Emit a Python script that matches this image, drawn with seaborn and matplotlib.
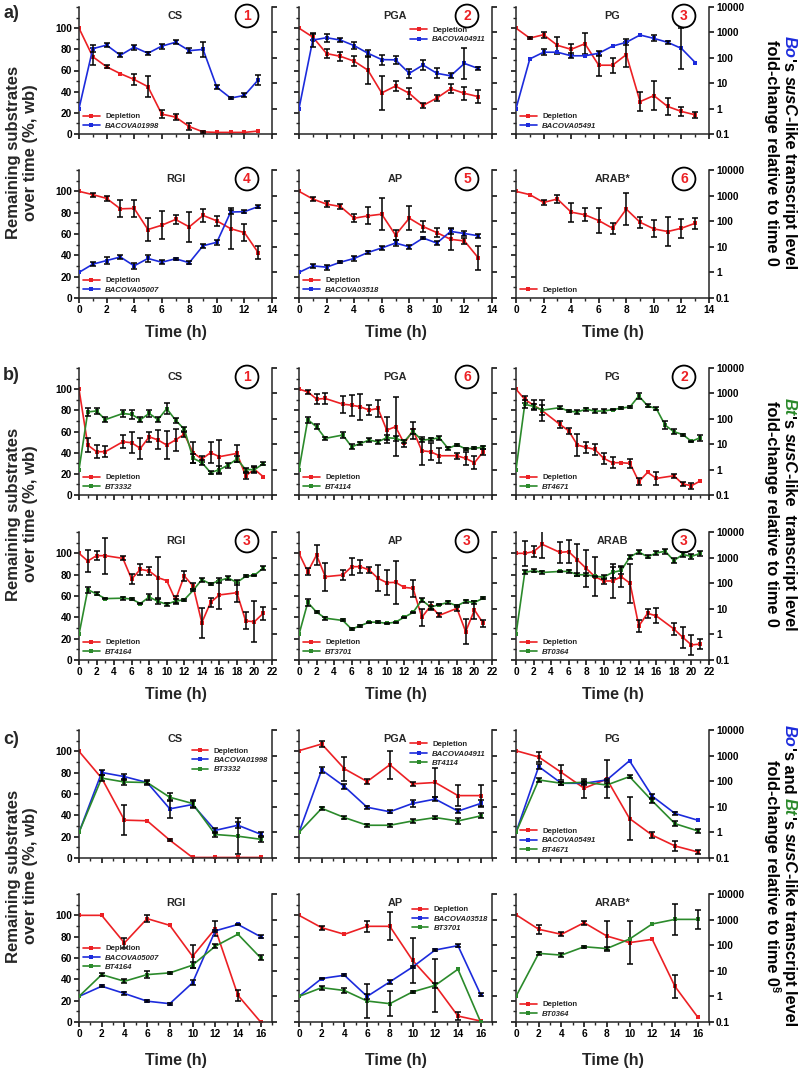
import numpy as np
import matplotlib
matplotlib.use('Agg')
import matplotlib.pyplot as plt
import seaborn as sns
from matplotlib.ticker import FixedLocator, MultipleLocator, NullLocator, FixedFormatter, NullFormatter
from matplotlib.transforms import IdentityTransform

nan = np.nan

# --- time axes ---
T_A = [0, 1, 2, 3, 4, 5, 6, 7, 8, 9, 10, 11, 12, 13]
T_B = [0, 1, 2, 3, 5, 6, 7, 8, 9, 10, 11, 12, 13, 14, 15, 16, 17, 18, 19, 20, 21]
T_C = [0, 2, 4, 6, 8, 10, 12, 14, 16]

# --- a) B. ovatus (depletion in %, transcripts as fold-change, errors in log10 units) ---
a_cs_dep = [100, 73, 63.5, 57, 51.5, 44.7, 18.8, 16, 7, 2, 1.5, 1.5, 1.5, 2.8]
a_cs_dep_err = [0, 8, 1.5, 0, 5, 10, 4, 3, 3, 1, 0, 0, 0, 0]
a_cs_bo = [1, 229, 316, 126, 263, 151, 288, 407, 191, 214, 6.9, 2.6, 3.3, 13.5]
a_cs_bo_err = [0, 0.15, 0.08, 0.08, 0.1, 0.06, 0.1, 0.08, 0.1, 0.3, 0.08, 0.05, 0.08, 0.2]

a_pga_dep = [100, 91.6, 76, 73.4, 68.8, 60.3, 38.8, 45.3, 38.4, 27, 34, 42.8, 38.4, 35.3]
a_pga_dep_err = [0, 2.5, 4, 4, 5, 13, 16, 5, 5, 2, 3, 4, 6, 6]
a_pga_bo = [1, 500, 617, 500, 302, 151, 85, 83, 24.5, 52, 24.5, 19.5, 60, 38]
a_pga_bo_err = [0, 0.26, 0.15, 0.09, 0.15, 0.13, 0.2, 0.17, 0.18, 0.18, 0.2, 0.1, 0.6, 0.06]

a_pg_dep = [100, 90.6, 93.8, 83.8, 80, 85.3, 65, 65, 75, 30.6, 36.3, 26, 21.3, 18.1]
a_pg_dep_err = [0, 1, 3, 8, 5, 10, 10, 7, 12, 9, 14, 8, 4, 3]
a_pg_bo = [1, 90, 166, 166, 120, 120, 151, 288, 407, 790, 580, 407, 234, 65]
a_pg_bo_err = [0, 0, 0.12, 0, 0.1, 0, 0.1, 0, 0.12, 0, 0.12, 0.07, 0.8, 0]

a_rgi_dep = [100, 96.9, 93.4, 83.6, 84, 64.2, 68.2, 73.6, 66.7, 77.4, 72.3, 65, 61.3, 42.5]
a_rgi_dep_err = [0, 2, 2, 8, 8, 11, 13, 4, 14, 6, 5, 19, 8, 6]
a_rgi_bo = [1, 2.1, 2.9, 4.0, 1.8, 3.5, 2.5, 3.4, 2.4, 11, 15, 228, 236, 372]
a_rgi_bo_err = [0, 0.07, 0.13, 0.07, 0.13, 0.13, 0.07, 0.05, 0.07, 0.08, 0.1, 0.09, 0.05, 0.06]

a_ap_dep = [100, 92.8, 88, 85.8, 74.8, 77, 78.6, 59, 74.8, 67, 61.3, 55, 53.5, 37.7]
a_ap_dep_err = [0, 2, 3, 2, 4, 8, 15, 5, 11, 5, 4, 10, 3, 11]
a_ap_bo = [1, 1.8, 1.6, 2.5, 3.5, 6, 9, 14, 10, 22, 14, 40, 33, 27]
a_ap_bo_err = [0, 0.07, 0.1, 0.03, 0.08, 0.04, 0.07, 0.1, 0.07, 0.05, 0.08, 0.12, 0.08, 0.08]

a_arab_dep = [100, 96.9, 89.6, 92.8, 80.5, 78, 72.6, 65.4, 83.3, 71, 64.8, 62.3, 65.4, 70.1]
a_arab_dep_err = [0, 0, 2, 4, 9, 6, 12, 5, 15, 5, 8, 14, 9, 5]

# --- b) B. thetaiotaomicron ---
b_cs_dep = [100, 47.2, 40.9, 40.9, 50.3, 49.4, 44, 55, 52, 47.2, 52, 57.5, 40, 34, 40, 36.2, nan, 39.3, 18.2, 24.2, 17.3]
b_cs_dep_err = [0, 7, 6, 5, 6, 10, 10, 5, 9, 13, 10, 3, 10, 3, 10, 16, nan, 8, 3, 3, 0]
b_cs_bt = [1, 186, 204, 93, 162, 148, 93, 162, 93, 251, 89, 39, 2.8, 1.9, 0.76, 1.0, 1.5, 2.6, 1.0, 1.0, 1.7]
b_cs_bt_err = [0, 0.16, 0.13, 0.1, 0.13, 0.16, 0.1, 0.13, 0.1, 0.22, 0.1, 0.1, 0.18, 0.1, 0.06, 0.13, 0.1, 0.13, 0.08, 0.1, 0.05]

b_pga_dep = [100, 97.5, 90.6, 91.2, 85.8, 84.9, 83.3, 80.2, 81.8, 61.3, 64.5, 48.7, 61.3, 41.8, 40.9, 37.1, nan, 37.1, 34.6, 30.5, 40.9]
b_pga_dep_err = [0, 2, 5, 5, 8, 10, 12, 5, 8, 12, 28, 3, 8, 13, 8, 7, nan, 3, 6, 6, 3]
b_pga_bt = [1, 93, 48, 17, 23, 7.9, 10.7, 14.5, 12.4, 18, 17, 13, 31, 14.5, 15.5, 18, 6.8, 9.5, 6.5, 7, 7.5]
b_pga_bt_err = [0, 0.12, 0.1, 0.06, 0.1, 0.1, 0.07, 0.07, 0.08, 0.1, 0.1, 0.05, 0.1, 0.06, 0.06, 0.08, 0.05, 0.03, 0.05, 0.03, 0.07]

b_pg_dep = [100, 90.3, 84.9, 79.6, 66.7, 60.7, 47.2, 45, 43, 34.6, 30.5, 30.5, 29.9, 12.6, 21.4, 15.7, nan, 18.2, 10.4, 8.8, 13.2]
b_pg_dep_err = [0, 3, 5, 10, 3, 3, 10, 5, 5, 5, 5, 0, 4, 3, 0, 6, nan, 2, 2, 3, 0]
b_pg_bt = [1, 372, 309, 219, 275, 200, 186, 240, 200, 204, 229, 263, 295, 794, 324, 251, 56, 31, 24, 13, 18]
b_pg_bt_err = [0, 0.15, 0.1, 0.2, 0.07, 0.05, 0.07, 0.06, 0.08, 0.08, 0.03, 0.05, 0.05, 0.12, 0.06, 0.05, 0.15, 0.1, 0.04, 0.03, 0.12]

b_rgi_dep = [100, 92.8, 97.8, 97.8, 95.3, 75.9, 85, 83.4, 77.2, 74.4, 56.3, 78.8, 69.4, 35, 54, 61, nan, 63.1, 36.6, 35.9, 43.8]
b_rgi_dep_err = [0, 10, 4, 17, 2, 5, 5, 4, 19, 0, 4, 5, 3, 14, 4, 13, nan, 9, 8, 19, 6]
b_rgi_bt = [1, 56, 38, 25, 26, 24, 16, 29, 19.5, 15, 20, 22.5, 52, 138, 93, 126, 159, 107, 186, 204, 389]
b_rgi_bt_err = [0, 0.12, 0.06, 0.03, 0.06, 0.04, 0.03, 0.1, 0.1, 0.06, 0.08, 0.03, 0.04, 0.08, 0.02, 0.1, 0.08, 0.1, 0.04, 0.02, 0.08]

b_ap_dep = [100, 82.8, 98.4, 78.1, 79.7, 87.5, 87.5, 84.4, 76.6, 72.5, 72.8, 68.1, 67.2, 40, 50.6, 41.9, nan, 48.4, 26.6, 46.9, 34.4]
b_ap_dep_err = [0, 3, 9, 13, 5, 8, 6, 3, 12, 12, 20, 0, 8, 8, 4, 2, nan, 2, 12, 8, 3]
b_ap_bt = [1, 17.7, 7.4, 4.3, 3.5, 1.6, 2.2, 3.0, 3.0, 2.7, 3.0, 4.7, 7.2, 22, 11.7, 14.5, 17.7, 13, 19.5, 17.7, 26]
b_ap_bt_err = [0, 0.12, 0.04, 0.06, 0.04, 0.04, 0.04, 0.02, 0.04, 0.02, 0.02, 0.02, 0.02, 0.08, 0.06, 0.03, 0.05, 0.03, 0.05, 0.06, 0.03]

b_arab_dep = [100, 100, 101.6, 108.4, 100.9, 101.6, 93.8, 85.9, 78.1, 74.1, 74.1, 78.1, 71.9, 31.9, 43.8, 41.3, nan, 29.1, 21.3, 14.1, 15]
b_arab_dep_err = [0, 12, 5, 13, 10, 11, 15, 17, 18, 3, 16, 10, 18, 6, 4, 7, nan, 6, 10, 9, 5]
b_arab_bt = [1, 263, 309, 263, 288, 288, 214, 214, 186, 174, 263, 316, 1070, 1660, 1070, 1510, 1780, 760, 1320, 1120, 1450]
b_arab_bt_err = [0, 0.08, 0.05, 0.05, 0.02, 0.06, 0.05, 0.06, 0.03, 0.08, 0.2, 0.15, 0.07, 0.07, 0.06, 0.07, 0.1, 0.1, 0.1, 0.1, 0.08]

# --- c) co-culture ---
c_cs_dep = [100, 74.8, 35.5, 34.9, 16.7, 0.5, 0.5, 0.5, 0.5]
c_cs_dep_err = [0, 0, 14, 0, 1, 0, 0, 0, 0]
c_cs_bo = [1, 219, 151, 89, 8.3, 12.3, 1.2, 1.9, 0.85]
c_cs_bo_err = [0, 0.1, 0.12, 0.08, 0.35, 0.15, 0.1, 0.12, 0.08]
c_cs_bt = [1, 132, 93, 89, 23.5, 13.5, 0.83, 0.71, 0.54]
c_cs_bt_err = [0, 0.12, 0.1, 0.06, 0.15, 0.15, 0.08, 0.7, 0.1]

c_pga_dep = [100.6, 106.9, 83.6, 71.7, 87.4, 69.5, 70.8, 58.5, 58.5]
c_pga_dep_err = [0, 3, 11, 2, 13, 2, 14, 10, 10]
c_pga_bo = [1, 275, 62, 9.6, 6.4, 13.5, 20, 6.8, 13.5]
c_pga_bo_err = [0, 0.1, 0.08, 0.05, 0.05, 0.12, 0.07, 0.08, 0.12]
c_pga_bt = [1, 8.7, 3.8, 1.9, 1.9, 2.8, 3.8, 2.8, 4.4]
c_pga_bt_err = [0, 0.07, 0.06, 0.06, 0.06, 0.07, 0.06, 0.1, 0.1]

c_pg_dep = [100.6, 94.7, 80.2, 65.4, 73.9, 37, 21.4, 11.3, 5.7]
c_pg_dep_err = [0, 5, 7, 9, 18, 20, 3, 5, 2]
c_pg_bo = [1, 372, 83, 83, 112, 630, 26, 5.5, 3.0]
c_pg_bo_err = [0, 0.1, 0.05, 0.05, 0.05, 0, 0.1, 0.05, 0]
c_pg_bt = [1, 112, 83, 91, 71, 151, 17, 2.2, 1.15]
c_pg_bt_err = [0, 0.08, 0.06, 0.05, 0.08, 0.07, 0.1, 0.1, 0.08]

c_rgi_dep = [100, 100, 74.1, 96.9, 90.6, 61.6, 87.5, 25, 0]
c_rgi_dep_err = [0, 0, 5, 3, 0, 11, 7, 5, 0]
c_rgi_bo = [1, 2.5, 1.3, 0.65, 0.52, 3.4, 363, 646, 214]
c_rgi_bo_err = [0, 0.03, 0.06, 0.03, 0.04, 0.1, 0.05, 0.02, 0.05]
c_rgi_bt = [1, 7.1, 3.9, 7.1, 8.3, 16.6, 91, 269, 32]
c_rgi_bt_err = [0, 0.05, 0.07, 0.13, 0.04, 0.12, 0.08, 0, 0.1]

c_ap_dep = [100, 88.4, 82.2, 89.7, 89.7, 57.8, 34.4, 5.6, 0.9]
c_ap_dep_err = [0, 2, 0, 5, 13, 21, 25, 4, 0]
c_ap_bo = [1, 5.0, 6.7, 1.0, 3.7, 14, 65, 96, 1.18]
c_ap_bo_err = [0, 0.02, 0.04, 0.1, 0.07, 0.03, 0.05, 0.06, 0.05]
c_ap_bt = [1, 2.2, 1.7, 0.66, 0.52, 1.5, 2.7, 11.5, 0.1]
c_ap_bt_err = [0, 0.08, 0.08, 0.65, 0.5, 0.04, 0.1, 0, 0]

c_arab_dep = [100.6, 86.9, 82.2, 93.1, 80.6, 74.4, 77.5, 33.4, 4.7]
c_arab_dep_err = [0, 4, 2, 2, 14, 20, 0, 11, 0]
c_arab_bt = [1, 48, 41, 87, 74, 174, 676, 1020, 1020]
c_arab_bt_err = [0, 0.07, 0.07, 0.04, 0.05, 0, 0, 0.6, 0.38]

RED = '#ec2024'
BLUE = '#1c2bdc'
GREEN = '#2b8a2b'

sns.set_theme(style='ticks')
plt.rcParams['font.family'] = ['Liberation Sans', 'DejaVu Sans']
plt.rcParams['font.weight'] = 'bold'
plt.rcParams['axes.linewidth'] = 1.1

W, H = 800, 1071
fig = plt.figure(figsize=(8, 10.71), dpi=100)
fig.patch.set_facecolor('white')

COL_X = [79, 299, 516]
AX_W = 193
GROUP_ROWS = {'a': [(7, 134), (170, 298)],
              'b': [(368, 495), (532, 660)],
              'c': [(730, 858), (894, 1022)]}
XMAX = {'a': 14, 'b': 22, 'c': 17}
XTICKS = {'a': range(0, 15, 2), 'b': range(0, 23, 2), 'c': range(0, 17, 2)}
TIMES = {'a': T_A, 'b': T_B, 'c': T_C}

# group, row, col, title, circle, depletion, error, transcript series, legend loc, anchor
PANELS = [
    ('a', 0, 0, 'CS', 1, a_cs_dep, a_cs_dep_err, [('BACOVA01998', a_cs_bo, a_cs_bo_err, BLUE)], 'lower left', (0, 0)),
    ('a', 0, 1, 'PGA', 2, a_pga_dep, a_pga_dep_err, [('BACOVA04911', a_pga_bo, a_pga_bo_err, BLUE)], 'upper right', (0.99, 0.88)),
    ('a', 0, 2, 'PG', 3, a_pg_dep, a_pg_dep_err, [('BACOVA05491', a_pg_bo, a_pg_bo_err, BLUE)], 'lower left', (0, 0)),
    ('a', 1, 0, 'RGI', 4, a_rgi_dep, a_rgi_dep_err, [('BACOVA05007', a_rgi_bo, a_rgi_bo_err, BLUE)], 'lower left', (0, 0)),
    ('a', 1, 1, 'AP', 5, a_ap_dep, a_ap_dep_err, [('BACOVA03518', a_ap_bo, a_ap_bo_err, BLUE)], 'lower left', (0, 0)),
    ('a', 1, 2, 'ARAB*', 6, a_arab_dep, a_arab_dep_err, [], 'lower left', (0, 0)),
    ('b', 0, 0, 'CS', 1, b_cs_dep, b_cs_dep_err, [('BT3332', b_cs_bt, b_cs_bt_err, GREEN)], 'lower left', (0, 0)),
    ('b', 0, 1, 'PGA', 6, b_pga_dep, b_pga_dep_err, [('BT4114', b_pga_bt, b_pga_bt_err, GREEN)], 'lower left', (0, 0)),
    ('b', 0, 2, 'PG', 2, b_pg_dep, b_pg_dep_err, [('BT4671', b_pg_bt, b_pg_bt_err, GREEN)], 'lower left', (0, 0)),
    ('b', 1, 0, 'RGI', 3, b_rgi_dep, b_rgi_dep_err, [('BT4164', b_rgi_bt, b_rgi_bt_err, GREEN)], 'lower left', (0, 0)),
    ('b', 1, 1, 'AP', 3, b_ap_dep, b_ap_dep_err, [('BT3701', b_ap_bt, b_ap_bt_err, GREEN)], 'lower left', (0, 0)),
    ('b', 1, 2, 'ARAB', 3, b_arab_dep, b_arab_dep_err, [('BT0364', b_arab_bt, b_arab_bt_err, GREEN)], 'lower left', (0, 0)),
    ('c', 0, 0, 'CS', None, c_cs_dep, c_cs_dep_err,
     [('BACOVA01998', c_cs_bo, c_cs_bo_err, BLUE), ('BT3332', c_cs_bt, c_cs_bt_err, GREEN)], 'upper right', (1.0, 0.9)),
    ('c', 0, 1, 'PGA', None, c_pga_dep, c_pga_dep_err,
     [('BACOVA04911', c_pga_bo, c_pga_bo_err, BLUE), ('BT4114', c_pga_bt, c_pga_bt_err, GREEN)], 'upper right', (0.99, 0.95)),
    ('c', 0, 2, 'PG', None, c_pg_dep, c_pg_dep_err,
     [('BACOVA05491', c_pg_bo, c_pg_bo_err, BLUE), ('BT4671', c_pg_bt, c_pg_bt_err, GREEN)], 'lower left', (0, 0)),
    ('c', 1, 0, 'RGI', None, c_rgi_dep, c_rgi_dep_err,
     [('BACOVA05007', c_rgi_bo, c_rgi_bo_err, BLUE), ('BT4164', c_rgi_bt, c_rgi_bt_err, GREEN)], 'center left', (0, 0.5)),
    ('c', 1, 1, 'AP', None, c_ap_dep, c_ap_dep_err,
     [('BACOVA03518', c_ap_bo, c_ap_bo_err, BLUE), ('BT3701', c_ap_bt, c_ap_bt_err, GREEN)], 'upper right', (1.0, 0.94)),
    ('c', 1, 2, 'ARAB*', None, c_arab_dep, c_arab_dep_err,
     [('BT0364', c_arab_bt, c_arab_bt_err, GREEN)], 'lower left', (0, 0)),
]

LINE_KW = dict(marker='s', markersize=2.6, markeredgewidth=0, linewidth=1.2, sort=False, errorbar=None)
ERR_KW = dict(fmt='none', ecolor='black', elinewidth=1.1, capsize=2, capthick=1.1, zorder=4)


def draw_panel(spec):
    g, row, col, title, circ, dep, dep_err, series, leg_loc, leg_anchor = spec
    ytop, ybot = GROUP_ROWS[g][row]
    ax = fig.add_axes([COL_X[col] / W, 1 - ybot / H, AX_W / W, (ybot - ytop) / H])
    ax2 = ax.twinx()
    t = np.asarray(TIMES[g], float)

    handles, labels = [], []
    d = np.asarray(dep, float)
    de = np.asarray(dep_err, float)
    m = ~np.isnan(d)
    sns.lineplot(x=t[m], y=d[m], ax=ax, color=RED, **LINE_KW)
    handles.append(ax.lines[-1]); labels.append('Depletion')
    em = m & (np.nan_to_num(de) > 0)
    ax.errorbar(t[em], d[em], yerr=de[em], **ERR_KW)

    for name, vals, errs, color in series:
        v = np.asarray(vals, float)
        e = np.asarray(errs, float)
        sns.lineplot(x=t, y=v, ax=ax2, color=color, **LINE_KW)
        handles.append(ax2.lines[-1]); labels.append(name)
        k = e > 0
        lo = v[k] - v[k] / 10 ** e[k]
        hi = v[k] * 10 ** e[k] - v[k]
        ax2.errorbar(t[k], v[k], yerr=[lo, hi], **ERR_KW)

    # axes styling
    ax.set_xlim(0, XMAX[g])
    ax.set_ylim(0, 120)
    ax2.set_yscale('log')
    ax2.set_ylim(0.1, 10000)
    for a in (ax, ax2):
        a.set_xlabel('')
        a.set_ylabel('')
        a.spines['top'].set_visible(False)
    ax.spines['right'].set_visible(False)
    ax2.spines['left'].set_visible(False)
    ax2.spines['bottom'].set_visible(False)
    ax2.spines['right'].set_linewidth(1.1)

    ax.xaxis.set_major_locator(FixedLocator(list(XTICKS[g])))
    ax.xaxis.set_minor_locator(MultipleLocator(1))
    ax.yaxis.set_major_locator(FixedLocator([0, 20, 40, 60, 80, 100]))
    ax.yaxis.set_minor_locator(MultipleLocator(10))
    ax2.yaxis.set_major_locator(FixedLocator([0.1, 1, 10, 100, 1000, 10000]))
    ax2.yaxis.set_minor_locator(NullLocator())
    ax2.yaxis.set_major_formatter(FixedFormatter(['0.1', '1', '10', '100', '1000', '10000']))

    for a in (ax, ax2):
        a.tick_params(which='major', direction='out', length=3.5, width=1.1, labelsize=7.3, pad=1.5, colors='black')
        a.tick_params(which='minor', direction='out', length=2.2, width=1.0)
    if col != 0:
        ax.yaxis.set_major_formatter(NullFormatter())
    if col != 2:
        ax2.yaxis.set_major_formatter(NullFormatter())
    if row == 0:
        ax.xaxis.set_major_formatter(NullFormatter())
    for lab in ax.get_xticklabels() + ax.get_yticklabels() + ax2.get_yticklabels():
        lab.set_fontweight('bold')

    h_ax = ybot - ytop
    ax2.text(0.5, 1 - 9 / h_ax, title, transform=ax2.transAxes, ha='center', va='center',
             fontsize=7.8, fontweight='bold')
    if circ is not None:
        ax2.text(1 - 25 / AX_W, 1 - 9 / h_ax, str(circ), transform=ax2.transAxes,
                 ha='center', va='center', color=RED, fontsize=10, fontweight='bold',
                 bbox=dict(boxstyle='circle,pad=0.32', fc='none', ec='black', lw=1.3))

    leg = ax2.legend(handles, labels, loc=leg_loc, bbox_to_anchor=leg_anchor, frameon=False,
                     fontsize=5.6, handlelength=2.1, handletextpad=0.7, labelspacing=0.25,
                     borderpad=0.25, borderaxespad=0.3)
    for txt in leg.get_texts():
        txt.set_fontweight('bold')
        if txt.get_text() != 'Depletion':
            txt.set_fontstyle('italic')


for spec in PANELS:
    draw_panel(spec)

# --- group labels ---
renderer = fig.canvas.get_renderer()


def measure(s, **kw):
    t = fig.text(0, 0, s, rotation=270, **kw)
    h = t.get_window_extent(renderer).height
    t.remove()
    return h


def seg_len(s, **kw):
    return measure('|' + s + '|', **kw) - measure('||', **kw)


def rotated_line(x_px, yc_px, pieces, size=11.8):
    lens = []
    for s, color, style, fs, dx in pieces:
        lens.append(seg_len(s, fontsize=fs or size, fontstyle=style, fontweight='bold'))
    y = (H - yc_px) + sum(lens) / 2
    for (s, color, style, fs, dx), L in zip(pieces, lens):
        fig.text(x_px + dx, y, s, transform=IdentityTransform(), rotation=270,
                 ha='center', va='top', color=color, fontstyle=style, fontweight='bold',
                 fontsize=fs or size)
        y -= L


RIGHT_LINE1 = {
    'a': [('Bo', BLUE, 'italic', None, 0), ("'s ", 'black', 'normal', None, 0),
          ('susC', 'black', 'italic', None, 0), ('-like transcript level', 'black', 'normal', None, 0)],
    'b': [('Bt', GREEN, 'italic', None, 0), ("'s ", 'black', 'normal', None, 0),
          ('susC', 'black', 'italic', None, 0), ('-like  transcript level', 'black', 'normal', None, 0)],
    'c': [('Bo', BLUE, 'italic', None, 0), ("'s and ", 'black', 'normal', None, 0),
          ('Bt', GREEN, 'italic', None, 0), ("'s ", 'black', 'normal', None, 0),
          ('susC', 'black', 'italic', None, 0), ('-like transcript level', 'black', 'normal', None, 0)],
}
RIGHT_LINE2 = {
    'a': [('fold-change relative to time 0', 'black', 'normal', None, 0)],
    'b': [('fold-change relative to time 0', 'black', 'normal', None, 0)],
    'c': [('fold-change relative to time 0', 'black', 'normal', None, 0),
          ('§', 'black', 'normal', 8, 5)],
}

LETTER_Y = {'a': 13, 'b': 376, 'c': 740}
TIME_Y = {'a': 332, 'b': 694, 'c': 1060}

for g, rows in GROUP_ROWS.items():
    yc = (rows[0][0] + rows[1][1]) / 2
    fig.text(3 / W, 1 - LETTER_Y[g] / H, g + ')', ha='left', va='center', fontsize=13, fontweight='bold')
    fig.text(22 / W, 1 - yc / H, 'Remaining substrates\nover time (%, wb)', rotation=90,
             ha='center', va='center', fontsize=12, fontweight='bold', linespacing=1.15,
             multialignment='center')
    for x0 in COL_X:
        fig.text((x0 + AX_W / 2) / W, 1 - TIME_Y[g] / H, 'Time (h)', ha='center', va='center',
                 fontsize=11.5, fontweight='bold')
    rotated_line(789, yc, RIGHT_LINE1[g])
    rotated_line(772, yc, RIGHT_LINE2[g])

fig.savefig('out.png', dpi=100, facecolor='white')
